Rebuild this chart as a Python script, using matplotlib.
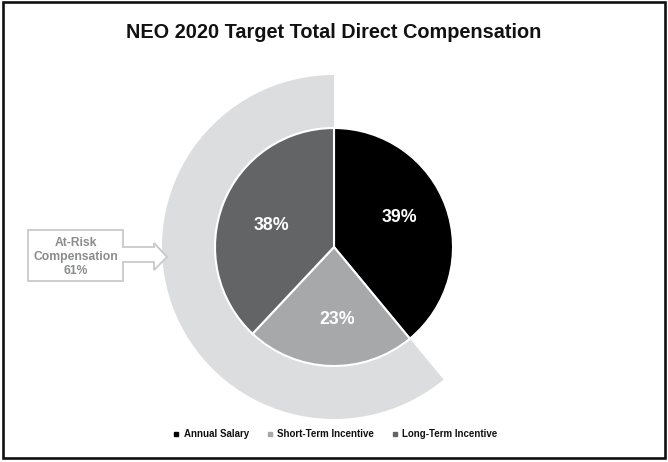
import matplotlib
matplotlib.use("Agg")
import matplotlib.pyplot as plt
from matplotlib.patches import Polygon, Rectangle
from matplotlib.lines import Line2D

plt.rcParams['font.family'] = ['Liberation Sans', 'DejaVu Sans']

# Data
categories = ["Annual Salary", "Short-Term Incentive", "Long-Term Incentive"]
values = [39, 23, 38]
at_risk_label = "At-Risk\nCompensation\n61%"
title = "NEO 2020 Target Total Direct Compensation"

colors = ["#000000", "#a7a8aa", "#636466"]
ring_color = "#dcdddf"

W, H = 668, 462
fig = plt.figure(figsize=(W / 100, H / 100), dpi=100)
ax = fig.add_axes([0, 0, 1, 1])
ax.set_xlim(0, W)
ax.set_ylim(0, H)
ax.set_aspect('equal')
ax.axis('off')

cx, cy = 334, H - 247
r_in = 119
r_out = 172

# Outer ring for at-risk compensation
at_risk = sum(values[1:])
ax.pie([values[0], at_risk], colors=["none", ring_color], radius=r_out, center=(cx, cy),
       startangle=90, counterclock=False,
       wedgeprops=dict(width=r_out - r_in, linewidth=0))

# Main pie
wedges, texts, autotexts = ax.pie(values, colors=colors, radius=r_in, center=(cx, cy),
       startangle=90, counterclock=False,
       autopct=lambda p: f"{p:.0f}%", pctdistance=0.58,
       wedgeprops=dict(edgecolor="white", linewidth=1.5),
       textprops=dict(color="white", fontsize=12.8, fontweight="bold"))
# small label nudges (pixels) to match the reference placement
nudges = [(1, 6), (5, -4), (2, -4)]
for t, (dx, dy) in zip(autotexts, nudges):
    x, y = t.get_position()
    t.set_position((x + dx, y + dy))
ax.set_xlim(0, W)
ax.set_ylim(0, H)

# Title
ax.text(W / 2, H - 33, title, ha="center", va="center", fontsize=14.3, fontweight="bold", color="#111111")

# Arrow callout
pts_px = [(28, 230), (123, 230), (123, 247), (154, 247), (154, 243), (167, 257),
          (154, 270), (154, 262), (123, 262), (123, 281), (28, 281)]
arrow = Polygon([(x, H - y) for x, y in pts_px], closed=True, facecolor="white",
                edgecolor="#c8c9cb", linewidth=1.3)
ax.add_patch(arrow)
ax.text(75.5, H - 257, at_risk_label, ha="center", va="center", fontsize=8.7,
        fontweight="bold", color="#8a8b8d", linespacing=1.2)

# Border
ax.add_patch(Rectangle((3, H - 458), 662, 456, fill=False, edgecolor="#111111", linewidth=1.9))

# Legend
handles = [Line2D([0], [0], marker='s', linestyle='none', markersize=3.5,
                  markerfacecolor=c, markeredgecolor=c) for c in colors]
leg = fig.legend(handles, categories, loc="center", bbox_to_anchor=(335.5 / W, 1 - 434 / H),
                 ncol=3, frameon=False, handlelength=0.6, handletextpad=0.5, columnspacing=1.8,
                 prop=dict(size=7, weight="bold"))
for t in leg.get_texts():
    t.set_color("#111111")

fig.savefig("out.png", dpi=100)
